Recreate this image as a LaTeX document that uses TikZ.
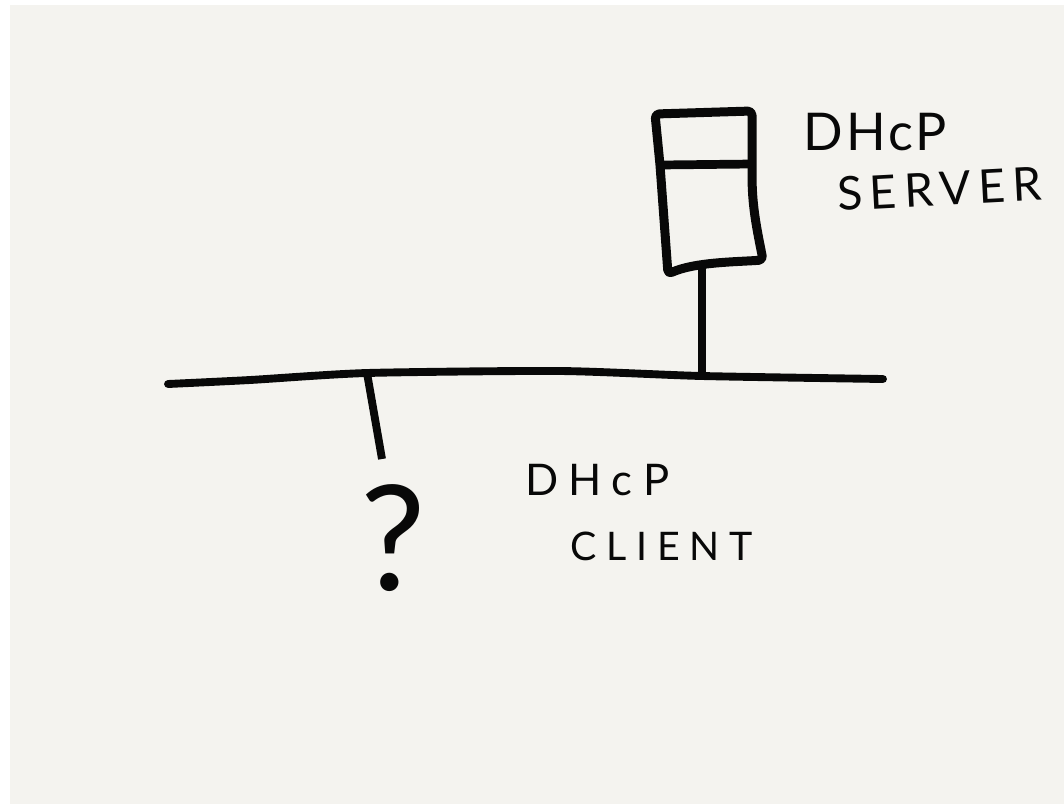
\documentclass[tikz,border=0pt]{standalone}
\usepackage{fontspec}
\setmainfont{Lato}
\definecolor{paper}{HTML}{F4F3EF}
\definecolor{ink}{HTML}{080808}
\begin{document}
\begin{tikzpicture}[
  x=0.025cm, y=-0.025cm,
  wire/.style ={draw=ink, line width=6.4pt, line cap=round, line join=round},
  stem/.style ={draw=ink, line width=5.6pt},
  lbl/.style  ={text=ink, inner sep=0pt, anchor=base west},
]
\useasboundingbox (0,0) rectangle (1064,804);
\fill[paper] (10,5) rectangle (1064,804);

% ======================= Server =======================
\coordinate (boxTL) at (655,114);
\coordinate (boxTR) at (752,111);
\coordinate (boxBR) at (763,260);
\coordinate (boxBL) at (668,274);
\coordinate (barL)  at (660,165);
\coordinate (barR)  at (752,164);
\coordinate (boxB)  at (702,266);

\draw[wire, rounded corners=3pt] (boxTL) -- (boxTR) -- (752,170)
  .. controls (752,205) and (756,225) .. (boxBR)
  .. controls (735,262) and (695,262) .. (boxBL) -- (barL) -- cycle;
\draw[stem, line width=6.2pt] (barL) -- (barR);

% ======================= Network =======================
\coordinate (busW) at (168,384);
\coordinate (busC) at (367,373);
\coordinate (busS) at (702,376);
\coordinate (busE) at (883,379);

\draw[wire, line width=5.6pt] plot[smooth, tension=0.4] coordinates
  {(busW) (250,380) (busC) (560,371) (busS) (busE)};
\draw[stem] (boxB) -- (busS);

% client drop, free at the lower end
\coordinate (dropE) at (382,459);
\draw[stem] (busC) -- (dropE);

% ======================= Labels =======================
\node[lbl, font=\fontsize{37}{37}\selectfont\addfontfeature{LetterSpace=6}] (srvA) at (803,150) {DHcP};
\node[lbl, font=\fontsize{33}{33}\selectfont\addfontfeature{LetterSpace=16}, rotate=3] (srvB) at (838,211) {SERVER};
\node[lbl, font=\fontsize{31}{31}\selectfont\addfontfeature{LetterSpace=24}] (cliA) at (525,495) {DHcP};
\node[lbl, font=\fontsize{28}{28}\selectfont\addfontfeature{LetterSpace=25}] (cliB) at (570,560) {CLIENT};
\node[lbl, font=\fontsize{104}{104}\selectfont] (ask) at (360,590) {?};
\end{tikzpicture}
\end{document}
